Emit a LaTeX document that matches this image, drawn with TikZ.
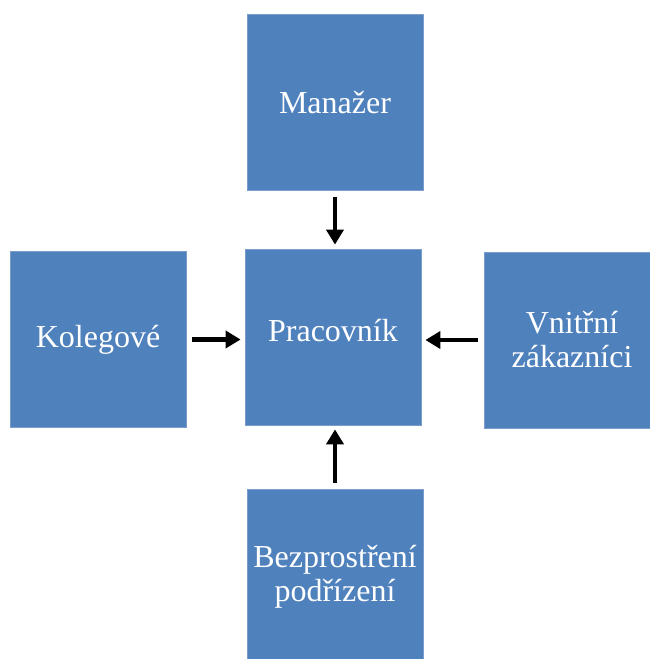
\documentclass[tikz,border=0pt]{standalone}
\usepackage{fontspec}
\setmainfont{Liberation Serif}
\usetikzlibrary{arrows.meta}
\definecolor{boxblue}{HTML}{4F81BD}
\definecolor{boxline}{HTML}{7C9DCB}
\tikzset{
  role/.style={rectangle, fill=boxblue, draw=boxline, line width=0.8pt,
    minimum width=176pt, minimum height=176pt, inner sep=0pt,
    text=white, align=center, font=\fontsize{32}{34}\selectfont},
  vztah/.style={line width=4.5pt, -{Triangle[width=17pt,length=15pt]},
    shorten <=6pt, shorten >=4pt}
}
\begin{document}
\begin{tikzpicture}[x=1pt,y=-1pt]
  \useasboundingbox (0,0) rectangle (650,659);
  \path (333,337) node[role, text depth=14pt] (prac) {Pracovník}
        (335,102.5) node[role] (man) {Manažer}
        (98,339.5) node[role] (kol) {Kolegové}
        (572,340) node[role] (vni) {Vnitřní\\zákazníci}
        (335,577) node[role] (bez) {Bezprostření\\podřízení};
  \foreach \z/\a/\b in {man/south/north, bez/north/south}{%
    \draw[vztah] (\z.\a) -- (\z.\a |- prac.\b);
  }
  \foreach \z/\a/\b in {kol/east/west, vni/west/east}{%
    \draw[vztah] (\z.\a) -- (\z.\a -| prac.\b);
  }
\end{tikzpicture}
\end{document}
